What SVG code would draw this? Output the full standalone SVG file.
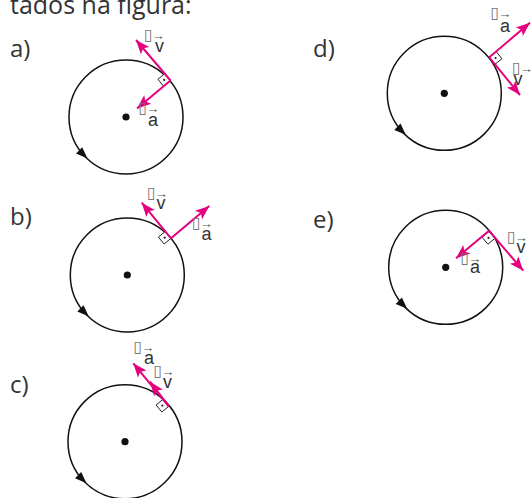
<svg xmlns="http://www.w3.org/2000/svg" width="531" height="498" viewBox="0 0 531 498">
<style>
.t{font-family:"Open Sans","Liberation Sans",sans-serif;font-size:24px;fill:#333}
.h{font-size:25px}
.c{fill:none;stroke:#111;stroke-width:1.5}
.dot{fill:#111}
.ca{fill:#111}
.vec{stroke:#E5007E;stroke-width:2;fill:none;marker-end:url(#ah)}
.sq{fill:#fff;stroke:#222;stroke-width:1}
.sd{fill:#222}
.lb{font-family:"Liberation Sans",sans-serif;font-size:18px;fill:#333}
.bx{font-family:"DejaVu Sans",sans-serif;font-size:16px;fill:#777}
.ar{font-family:"Liberation Sans",sans-serif;font-size:13px;fill:#555}
</style>
<defs>
<marker id="ah" markerUnits="userSpaceOnUse" markerWidth="16" markerHeight="14" viewBox="-15 -7 16 14" refX="0" refY="0" orient="auto">
<path d="M0,0 L-14,-5.5 L-11,0 L-14,5.5 Z" fill="#E5007E"/>
</marker>
</defs>
<rect width="531" height="498" fill="#fff"/>
<text class="t h" x="10" y="14">tados na figura:</text>

<g id="a">
<text class="t" x="10" y="57">a)</text>
<circle class="c" cx="126" cy="117" r="57"/>
<circle class="dot" cx="126" cy="117" r="3.6"/>
<path class="ca" d="M87.5,158.5 L76,153.6 L82.2,147.2 Z"/>
<g id="a-vectors">
<path class="sq" d="M170.5,80.5 L164.8,73.6 L157.9,79.3 L163.6,86.2 Z"/>
<circle class="sd" cx="164.2" cy="79.9" r="1.1"/>
<line class="vec" x1="170.5" y1="80.5" x2="136" y2="40"/>
<line class="vec" x1="170.5" y1="80.5" x2="137" y2="108.5"/>
</g>
<text class="lb" x="144" y="39.5"><tspan class="bx">▯</tspan><tspan class="ar" dx="-1">→</tspan><tspan x="155" y="51.7">v</tspan></text>
<text class="lb" x="138.5" y="112.5"><tspan class="bx">▯</tspan><tspan class="ar" dx="-1">→</tspan><tspan x="148" y="126">a</tspan></text>
</g>

<g id="b">
<text class="t" x="10" y="225">b)</text>
<circle class="c" cx="127.3" cy="275" r="57"/>
<circle class="dot" cx="127.3" cy="275" r="3.6"/>
<path class="ca" d="M88.8,316.5 L77.3,311.6 L83.5,305.2 Z"/>
<g id="b-vectors">
<path class="sq" d="M171,238.3 L165.3,231.4 L158.4,237.1 L164.1,244 Z"/>
<circle class="sd" cx="164.7" cy="237.7" r="1.1"/>
<line class="vec" x1="171" y1="238.3" x2="141.7" y2="202.7"/>
<line class="vec" x1="171" y1="238.3" x2="209.3" y2="206"/>
</g>
<text class="lb" x="147" y="197.8"><tspan class="bx">▯</tspan><tspan class="ar" dx="-1">→</tspan><tspan x="156.5" y="209.3">v</tspan></text>
<text class="lb" x="192" y="227.8"><tspan class="bx">▯</tspan><tspan class="ar" dx="-1">→</tspan><tspan x="201.5" y="240">a</tspan></text>
</g>

<g id="c">
<text class="t" x="10" y="393">c)</text>
<circle class="c" cx="125" cy="441.7" r="57"/>
<circle class="dot" cx="125" cy="441.7" r="3.6"/>
<path class="ca" d="M86.5,483.2 L75,478.3 L81.2,471.9 Z"/>
<g id="c-vectors">
<path class="sq" d="M168.8,406.3 L163.1,399.3 L156.1,405 L161.8,412 Z"/>
<circle class="sd" cx="162.4" cy="405.6" r="1.1"/>
<line class="vec" x1="168.8" y1="406.3" x2="133.3" y2="363.3"/>
<line class="vec" x1="168.8" y1="406.3" x2="150" y2="381.7"/>
</g>
<text class="lb" x="133.5" y="352.2"><tspan class="bx">▯</tspan><tspan class="ar" dx="-1">→</tspan><tspan x="144" y="364.3">a</tspan></text>
<text class="lb" x="153.5" y="376.2"><tspan class="bx">▯</tspan><tspan class="ar" dx="-1">→</tspan><tspan x="163" y="388.3">v</tspan></text>
</g>

<g id="d">
<text class="t" x="313" y="57">d)</text>
<circle class="c" cx="444.3" cy="93.3" r="57"/>
<circle class="dot" cx="444.3" cy="93.3" r="3.6"/>
<path class="ca" d="M405.8,134.8 L394.3,129.9 L400.5,123.5 Z"/>
<g id="d-vectors">
<path class="sq" d="M489.3,57.3 L496.3,51.7 L501.9,58.7 L494.9,64.3 Z"/>
<circle class="sd" cx="495.6" cy="58" r="1.1"/>
<line class="vec" x1="489.3" y1="57.3" x2="530" y2="22.7"/>
<line class="vec" x1="489.3" y1="57.3" x2="520" y2="95"/>
</g>
<text class="lb" x="490.5" y="17.8"><tspan class="bx">▯</tspan><tspan class="ar" dx="-1">→</tspan><tspan x="500" y="31.7">a</tspan></text>
<text class="lb" x="512" y="73"><tspan class="bx">▯</tspan><tspan class="ar" dx="-1">→</tspan><tspan x="513.5" y="84.5">v</tspan></text>
</g>

<g id="e">
<text class="t" x="313" y="227.7">e)</text>
<circle class="c" cx="445.7" cy="267.3" r="57"/>
<circle class="dot" cx="445.7" cy="267.3" r="3.6"/>
<path class="ca" d="M407.2,308.8 L395.7,303.9 L401.9,297.5 Z"/>
<g id="e-vectors">
<path class="sq" d="M489,231.5 L482.1,237.3 L487.9,244.2 L494.8,238.4 Z"/>
<circle class="sd" cx="488.5" cy="237.8" r="1.1"/>
<line class="vec" x1="489" y1="230.7" x2="456" y2="258.3"/>
<line class="vec" x1="489" y1="230.7" x2="523.3" y2="270.7"/>
</g>
<text class="lb" x="460.5" y="262.8"><tspan class="bx">▯</tspan><tspan class="ar" dx="-1">→</tspan><tspan x="470" y="273.3">a</tspan></text>
<text class="lb" x="507" y="242.2"><tspan class="bx">▯</tspan><tspan class="ar" dx="-1">→</tspan><tspan x="516.5" y="253.3">v</tspan></text>
</g>
</svg>
